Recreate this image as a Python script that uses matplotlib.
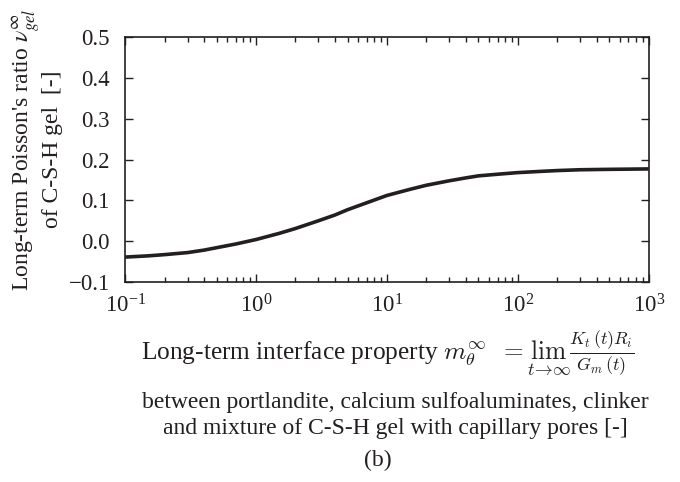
import numpy as np
import matplotlib
matplotlib.use("Agg")
import matplotlib.pyplot as plt
from matplotlib.ticker import LogLocator, FixedLocator

plt.rcParams["font.family"] = ["Liberation Serif", "DejaVu Serif"]
plt.rcParams["mathtext.fontset"] = "stix"

# interface property m_theta (log axis) vs long-term Poisson's ratio of C-S-H gel
m_theta = [0.1, 0.15, 0.2, 0.3, 0.4, 0.5, 0.7, 1, 1.5, 2, 3, 4, 5, 7, 10,
           15, 20, 30, 40, 50, 70, 100, 150, 200, 300, 500, 1000]
nu_gel = [-0.039, -0.036, -0.033, -0.028, -0.022, -0.016, -0.007, 0.004,
          0.019, 0.031, 0.050, 0.064, 0.077, 0.094, 0.112, 0.127, 0.137,
          0.148, 0.155, 0.160, 0.164, 0.168, 0.171, 0.173, 0.175, 0.176,
          0.177]
y_ticks = [-0.1, 0.0, 0.1, 0.2, 0.3, 0.4, 0.5]

fig = plt.figure(figsize=(6.8, 4.82), dpi=100)
ax = fig.add_axes([0.184, 0.415, 0.770, 0.508])

ax.semilogx(m_theta, nu_gel, color="#231f20", lw=2.6,
            solid_capstyle="butt", solid_joinstyle="round")

ax.set_xlim(0.1, 1000)
ax.set_ylim(-0.1, 0.5)
ax.yaxis.set_major_locator(FixedLocator(y_ticks))
ax.set_yticklabels([f"{v:.1f}".replace("-", "\u2212") for v in y_ticks])
ax.xaxis.set_major_locator(LogLocator(base=10, numticks=10))
ax.xaxis.set_minor_locator(LogLocator(base=10, subs=np.arange(2, 10), numticks=10))

ax.tick_params(which="both", direction="in", top=True, right=True,
               labelsize=16.5, colors="#231f20", width=1.0)
ax.tick_params(axis="x", which="major", length=6, pad=9)
ax.tick_params(axis="y", which="major", length=6, pad=11)
ax.tick_params(which="minor", length=3.5)
for s in ax.spines.values():
    s.set_linewidth(1.2)
    s.set_color("#231f20")

ax.set_ylabel("Long-term Poisson's ratio $\\nu_{gel}^{\\infty}$\nof C-S-H gel  [-]",
              fontsize=17, color="#231f20", linespacing=1.05)
ax.yaxis.set_label_coords(-0.118, 0.54)

# x label: first line with the limit expression, then the description
fig.text(0.570, 0.268,
         "Long-term interface property $m_{\\theta}^{\\infty}$  "
         "$=\\lim_{t\\rightarrow\\infty}\\frac{K_t(t)R_i}{G_m\\,(t)}$",
         ha="center", va="center", fontsize=18.3, color="#231f20",
         math_fontfamily="cm")
fig.text(0.582, 0.165, "between portlandite, calcium sulfoaluminates, clinker",
         ha="center", va="center", fontsize=17, color="#231f20")
fig.text(0.582, 0.112, "and mixture of C-S-H gel with capillary pores [-]",
         ha="center", va="center", fontsize=17, color="#231f20")
fig.text(0.556, 0.045, "(b)", ha="center", va="center", fontsize=17,
         color="#231f20")

fig.savefig("out.png", dpi=100)
